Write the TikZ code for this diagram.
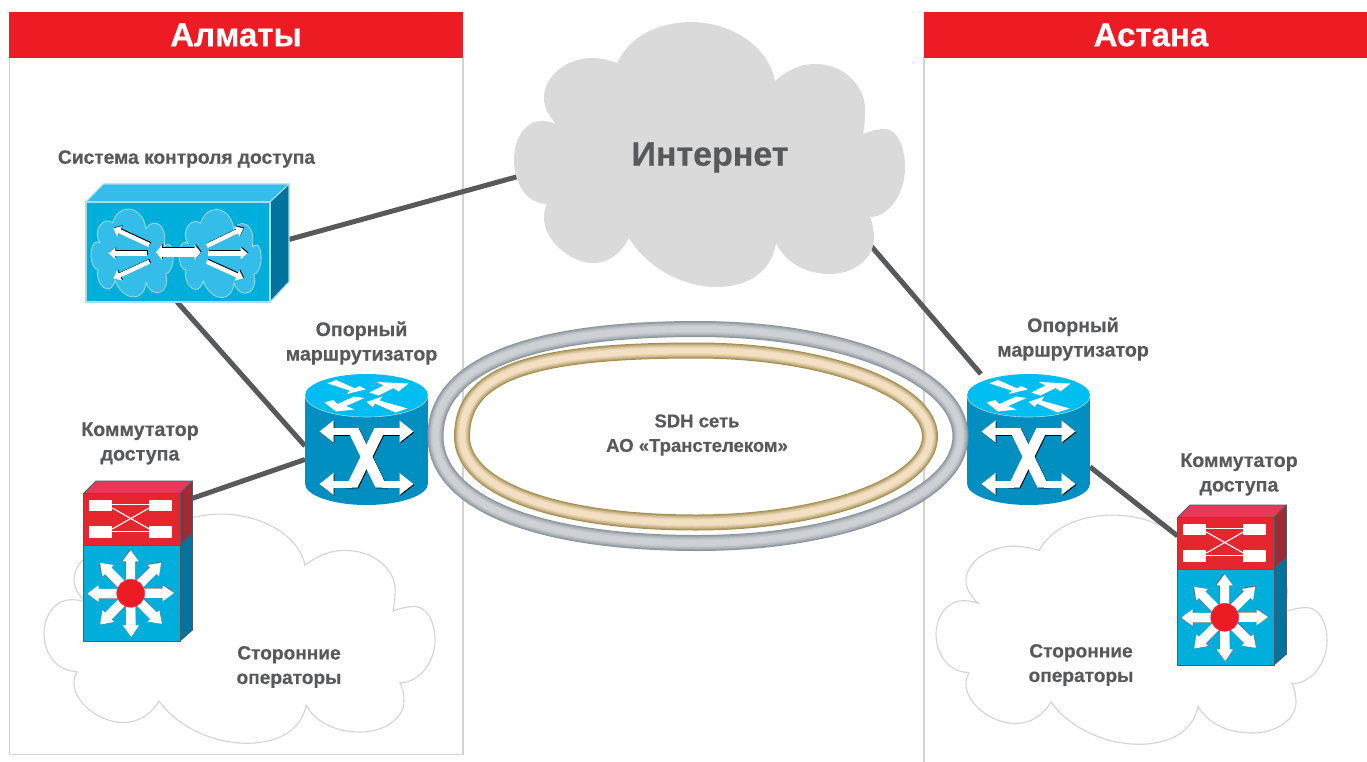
\documentclass[tikz,border=0pt]{standalone}
\usepackage{fontspec}
\setmainfont{Liberation Sans}[BoldFeatures={FakeBold=0.5}]
\usetikzlibrary{arrows.meta}
\definecolor{txtgray}{HTML}{58595B}
\definecolor{linegray}{HTML}{D2D3D4}
\definecolor{cloudgray}{HTML}{DADADA}
\definecolor{barred}{HTML}{ED1C24}
\definecolor{rtside}{HTML}{008FC0}
\definecolor{rttop}{HTML}{00BDF2}
\definecolor{boxfront}{HTML}{00AEDB}
\definecolor{boxtop}{HTML}{33BDE8}
\definecolor{boxside}{HTML}{00749E}
\definecolor{boxedge}{HTML}{A6DBE8}
\definecolor{swtop}{HTML}{E8385A}
\definecolor{swfront}{HTML}{E6262F}
\definecolor{swside}{HTML}{A02A33}
\definecolor{swedge}{HTML}{4D5B66}
\definecolor{shade}{HTML}{33424D}
\definecolor{ringdark}{HTML}{8A939A}
\definecolor{ringlight}{HTML}{CDD1D5}
\definecolor{golddark}{HTML}{A08C4E}
\definecolor{goldlight}{HTML}{F3DFC2}
\begin{document}
\begin{tikzpicture}[x=1pt,y=-1pt]
      \newcommand{\cloudpath}{(617,63) .. controls (630,37) and (655,23) .. (690,22)
        .. controls (730,22) and (768,45) .. (775,81)
        .. controls (788,70) and (800,64) .. (815,64)
        .. controls (845,64) and (868,88) .. (865,115)
        .. controls (865,122) and (864,128) .. (863,134)
        .. controls (870,131) and (877,129) .. (885,129)
        .. controls (897,129) and (905,147) .. (905,167)
        .. controls (905,195) and (888,217) .. (870,217)
        .. controls (873,224) and (874,231) .. (874,238)
        .. controls (874,258) and (855,274) .. (830,274)
        .. controls (805,274) and (785,262) .. (776,243)
        .. controls (772,270) and (750,287) .. (717,287)
        .. controls (680,287) and (645,265) .. (629,238)
        .. controls (622,252) and (610,263) .. (593,263)
        .. controls (570,263) and (544,240) .. (544,218)
        .. controls (544,212) and (545,208) .. (547,204)
        .. controls (528,204) and (514,185) .. (514,160)
        .. controls (514,138) and (526,121) .. (541,121)
        .. controls (547,121) and (552,122) .. (556,124)
        .. controls (549,116) and (544,108) .. (544,98)
        .. controls (544,75) and (568,58) .. (592,58)
        .. controls (600,58) and (609,60) .. (617,63) -- cycle}
      \newcommand{\ringpath}[3]{(-1,0) .. controls (-1,-#1) and (-#1,-1) .. (0,-1)
        .. controls (#3,-1) and (1,-#3) .. (1,0)
        .. controls (1,#3) and (#3,1) .. (0,1)
        .. controls (-#2,1) and (-1,#2) .. (-1,0) -- cycle}
      \newcommand{\capfont}[1]{\bfseries\fontsize{#1}{24.5}\selectfont}
      \newcommand{\router}[1]{
        \begin{scope}[shift={(#1)}]
          \fill[rtside] (-61.5,-44) rectangle (61.5,44);
          \fill[rtside] (0,44) ellipse (61.5pt and 21.5pt);
          \fill[rttop] (0,-44) ellipse (61.5pt and 21.5pt);
          \draw[boxedge,line width=0.6pt] (-61.5,-44) .. controls (-61.5,-32) and (-34,-22.5) .. (0,-22.5)
            .. controls (34,-22.5) and (61.5,-32) .. (61.5,-44);
          \fill[white] (-39.2,-56.2) -- (-30.5,-59.5) -- (-11.5,-51.2) -- (-7.2,-53.5) -- (-0.5,-50.2) -- (-19.8,-45.5) -- (-16.5,-48.8) -- cycle;
          \fill[white] (2.8,-47) -- (17,-54) -- (10,-57.5) -- (42,-56) -- (32,-48) -- (27,-51.5) -- (12,-44) -- cycle;
          \fill[white] (-42,-37) -- (-30.5,-28) -- (-12,-30) -- (-20.5,-33.5) -- (-2,-41.5) -- (-12.5,-43) -- (-29,-35.5) -- (-33.2,-39.5) -- cycle;
          \fill[white] (0,-37.5) -- (16,-43) -- (13,-39) -- (41,-31) -- (29,-27) -- (8.5,-36) -- (6.2,-32.5) -- cycle;
          \foreach \d/\c in {0.8/shade,0/white}{
            \begin{scope}[shift={(\d,\d)},\c]
              \draw[line width=7pt] (-36,-8) -- (-15,-8);
              \draw[line width=7pt] (36,-8) -- (15,-8);
              \draw[line width=7pt] (-36,44.5) -- (-15,44.5);
              \draw[line width=7pt] (36,44.5) -- (15,44.5);
              \fill (-20,-11.5) -- (-8,-11.5) -- (21,48) -- (9,48) -- cycle;
              \fill (20,-11.5) -- (8,-11.5) -- (-21,48) -- (-9,48) -- cycle;
              \fill (-47,-8) -- (-33,-19) -- (-33,3) -- cycle;
              \fill (47,-8) -- (33,-19) -- (33,3) -- cycle;
              \fill (-47,44.5) -- (-33,33.5) -- (-33,55.5) -- cycle;
              \fill (47,44.5) -- (33,33.5) -- (33,55.5) -- cycle;
            \end{scope}
          }
        \end{scope}
      }
      \newcommand{\switchbox}[1]{
        \begin{scope}[shift={(#1)}]
          \begin{scope}[draw=swedge,line width=0.8pt,line join=round]
            \filldraw[fill=swtop] (0,12.5) -- (12.5,0) -- (109,0) -- (96.5,12.5) -- cycle;
            \filldraw[fill=swside] (96.5,12.5) -- (109,0) -- (109,51.5) -- (96.5,64) -- cycle;
            \filldraw[fill=boxside] (96.5,64) -- (109,51.5) -- (109,149) -- (96.5,160) -- cycle;
            \filldraw[fill=swfront] (0,12.5) rectangle (96.5,64);
            \filldraw[fill=boxfront] (0,64) rectangle (96.5,160);
          \end{scope}
          \fill[white] (5.8,19) rectangle (28.8,30.3);
          \fill[white] (65.8,19) rectangle (88.2,30.3);
          \fill[white] (5.8,45) rectangle (28.8,56.7);
          \fill[white] (65.8,45) rectangle (88.2,56.7);
          \draw[white,line width=1.1pt] (28.8,23.7) -- (65.8,23.7);
          \draw[white,line width=1.1pt] (28.8,50.5) -- (65.8,50.5);
          \draw[white,line width=1.1pt] (28.8,27) -- (65.8,48);
          \draw[white,line width=1.1pt] (28.8,48) -- (65.8,27);
          \foreach \a in {0,45,...,315}{
            \begin{scope}[shift={(47.2,112.3)},rotate=\a]
              \fill[shade] (0.7,-5.2) -- (32,-5.2) -- (32,-8.7) -- (43.7,-0.7) -- (32,7.3) -- (32,3.8) -- (0.7,3.8) -- cycle;
              \fill[white] (0,-4.5) -- (32,-4.5) -- (32,-8) -- (43,0) -- (32,8) -- (32,4.5) -- (0,4.5) -- cycle;
            \end{scope}
          }
          \filldraw[fill=barred,draw=swtop,line width=0.5pt] (47.2,112.3) circle (14pt);
        \end{scope}
      }
      \tikzstyle{link}=[line width=5pt,draw=txtgray]
      \tikzstyle{frameline}=[line width=1.6pt,draw=linegray]
      \tikzstyle{thincloud}=[line width=1.1pt,draw=linegray]
      \tikzstyle{titlebar}=[fill=barred,text=white,inner sep=0,font=\bfseries\fontsize{33}{36}\selectfont,minimum height=46pt]
      \tikzstyle{devbox}=[inner sep=0,outer sep=0]
      \tikzstyle{caption}=[inner sep=0,text=txtgray,align=center]
      \tikzstyle{smallarrow}=[line width=4.4pt,-{Triangle[width=11pt,length=7pt]}]

      \useasboundingbox (0,0) rectangle (1367,762);

      \draw[frameline] (9.5,58) -- (9.5,754.5) -- (463,754.5) -- (463,58);
      \draw[frameline] (924,58) -- (924,762);
      \node[titlebar,minimum width=454pt] (almaty) at (236,35) {Алматы};
      \node[titlebar,minimum width=443pt] (astana) at (1145.5,35) {\hspace*{11pt}Астана};

      \begin{scope}[xshift=-470pt,yshift=-495pt,yscale=.865]
        \draw[thincloud] \cloudpath;
      \end{scope}
      \begin{scope}[xshift=422pt,yshift=-496pt,yscale=.865]
        \draw[thincloud] \cloudpath;
      \end{scope}

      \node[devbox,minimum width=203pt,minimum height=118pt] (acs) at (187.5,243) {};
      \node[devbox,minimum width=123pt,minimum height=131pt] (coreA) at (366.5,439.5) {};
      \node[devbox,minimum width=123pt,minimum height=131pt] (coreB) at (1028.5,439.5) {};
      \node[devbox,minimum width=109pt,minimum height=160pt] (swA) at (138,561) {};
      \node[devbox,minimum width=109pt,minimum height=160pt] (swB) at (1232,585) {};
      \node[devbox,minimum width=380pt,minimum height=164pt] (inet) at (710,156) {};

      \draw[link] (acs.2.65) -- (inet.186.66);
      \draw[link] (acs.-100.1) -- (coreA.186);
      \draw[link] (swA.49.6) -- (coreA.198.2);
      \draw[link] (inet.-28.67) -- (coreB.126.7);
      \draw[link] (coreB.-24.1) -- (swB.138.6);

      \fill[cloudgray] \cloudpath;
      \node[inner sep=0,text=txtgray,font=\bfseries\fontsize{34}{36}\selectfont] (inetlabel) at (710,157.5) {Интернет};

      \begin{scope}[shift={(86,184)}]
        \begin{scope}[draw=boxedge,line width=1.1pt,line join=round]
          \filldraw[fill=boxtop] (0,18) -- (17.5,0) -- (203,0) -- (184,18) -- cycle;
          \filldraw[fill=boxside] (184,18) -- (203,0) -- (203,97.7) -- (184,118) -- cycle;
          \filldraw[fill=boxfront] (0,18) rectangle (184,118);
        \end{scope}
      \end{scope}
      \begin{scope}[xshift=-16.9pt,yshift=-201.7pt,xscale=.21,yscale=.332]
        \filldraw[fill=boxtop,draw=boxedge,line width=0.8pt] \cloudpath;
      \end{scope}
      \begin{scope}[xshift=71.1pt,yshift=-202.2pt,xscale=.21,yscale=.332]
        \filldraw[fill=boxtop,draw=boxedge,line width=0.8pt] \cloudpath;
      \end{scope}
      \foreach \d/\c in {0.8/shade,0/white}{
        \begin{scope}[shift={(\d,-\d)}]
          \draw[smallarrow,\c] (149.3,245) -- (113.3,228.3);
          \draw[smallarrow,\c] (147.3,253.3) -- (108.3,253.3);
          \draw[smallarrow,\c] (149.3,261.7) -- (113.3,278.3);
          \draw[smallarrow,\c] (206.7,246) -- (243.3,228.3);
          \draw[smallarrow,\c] (208.3,253.3) -- (247.7,253.3);
          \draw[smallarrow,\c] (206.7,261.7) -- (243.3,278.3);
          \draw[\c,line width=8.5pt,{Triangle[width=15pt,length=6pt]}-{Triangle[width=15pt,length=6pt]}] (156,252.3) -- (200.7,252.3);
        \end{scope}
      }

      \router{366.5,439.5}
      \router{1028.5,439.5}
      \switchbox{83.5,481}
      \switchbox{1177.5,505}

      \begin{scope}[shift={(698,436)},xscale=262.5,yscale=107]
        \foreach \w/\m in {16/0,14.5/18,13/36,11.5/54,10/70,8/85,6/100}{
          \draw[ringlight!\m!ringdark,line width=\w pt] \ringpath{.65}{.62}{.56};
        }
      \end{scope}
      \begin{scope}[shift={(696,436.5)},xscale=234,yscale=86]
        \foreach \w/\m in {16/0,14.5/18,13/36,11.5/54,10/70,8/85,6/100}{
          \draw[goldlight!\m!golddark,line width=\w pt] \ringpath{.72}{.6}{.55};
        }
      \end{scope}

      \node[caption,font=\capfont{19.2}] (acslabel) at (186.5,159) {Система контроля доступа};
      \node[caption,font=\capfont{19.6}] (coreAlabel) at (361.5,343) {Опорный\\маршрутизатор};
      \node[caption,font=\capfont{19.6}] (coreBlabel) at (1073,339) {Опорный\\маршрутизатор};
      \node[caption,font=\capfont{19.6}] (swAlabel) at (140,443.5) {Коммутатор\\доступа};
      \node[caption,font=\capfont{19.6}] (swBlabel) at (1239,474.5) {Коммутатор\\доступа};
      \node[caption,font=\capfont{19.1}] (opAlabel) at (289,667) {Сторонние\\операторы};
      \node[caption,font=\capfont{19.1}] (opBlabel) at (1081,665) {Сторонние\\операторы};
      \node[caption,font=\capfont{18.5}] (sdh) at (697,435) {SDH сеть\\АО «Транстелеком»};
\end{tikzpicture}
\end{document}
